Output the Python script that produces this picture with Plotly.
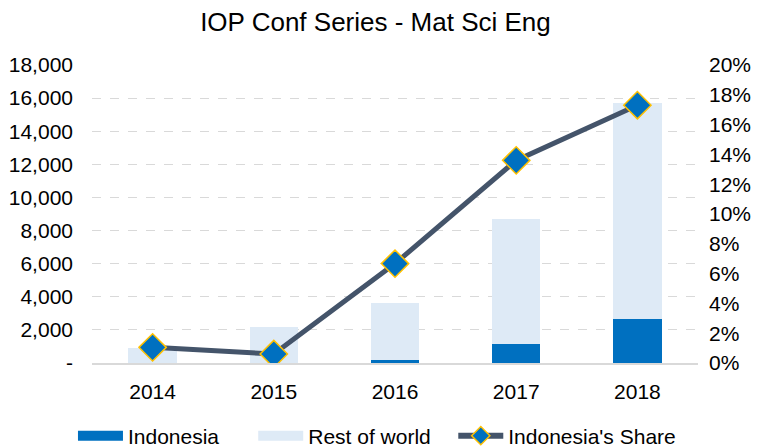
import plotly.graph_objects as go

years = ["2014", "2015", "2016", "2017", "2018"]
indonesia = [0, 0, 200, 1150, 2650]
rest_of_world = [880, 2200, 3400, 7550, 13050]
share = [0.0105, 0.006, 0.0667, 0.136, 0.173]

left_ticks = [0, 2000, 4000, 6000, 8000, 10000, 12000, 14000, 16000, 18000]
left_labels = ["-"] + [f"{v:,}" for v in left_ticks[1:]]
right_ticks = [i / 100 for i in range(0, 21, 2)]
right_labels = [f"{i}%" for i in range(0, 21, 2)]

font = "Liberation Sans, Arial, sans-serif"
c_indo = "#0070C0"
c_rest = "#DEEAF6"
c_line = "#44546A"
NB = "\u00a0"

fig = go.Figure()
fig.add_trace(go.Bar(x=years, y=indonesia, name="Indonesia", legendgroup="indo",
                     showlegend=False, marker=dict(color=c_indo, line=dict(width=0))))
fig.add_trace(go.Bar(x=years, y=rest_of_world, name="Rest of world", legendgroup="rest",
                     showlegend=False, marker=dict(color=c_rest, line=dict(width=0))))
fig.add_trace(go.Scatter(x=years, y=share, name="Indonesia's Share", yaxis="y2",
                         mode="lines+markers", showlegend=False, legendgroup="share",
                         line=dict(color=c_line, width=5),
                         marker=dict(symbol="diamond", size=21, color=c_indo,
                                     line=dict(color="#FFC000", width=1.5))))
# legend entries
fig.add_trace(go.Scatter(x=[None], y=[None], name="Indonesia" + NB * 5, legendgroup="indo",
                         mode="lines", line=dict(color=c_indo, width=12)))
fig.add_trace(go.Scatter(x=[None], y=[None], name="Rest of world" + NB * 3, legendgroup="rest",
                         mode="lines", line=dict(color=c_rest, width=12)))
fig.add_trace(go.Scatter(x=[None], y=[None], name="Indonesia's Share", legendgroup="share",
                         yaxis="y2", mode="lines+markers",
                         line=dict(color=c_line, width=6),
                         marker=dict(symbol="diamond", size=14, color=c_indo,
                                     line=dict(color="#FFC000", width=1.5))))

# the page body adds an 8px offset; figure is sized so it fills the window
fig.update_layout(
    width=753, height=439,
    barmode="stack", bargap=0.6,
    paper_bgcolor="white", plot_bgcolor="white",
    font=dict(family=font, size=21, color="#000000"),
    title=dict(text="IOP Conf Series - Mat Sci Eng", x=0.488, xanchor="center",
               xref="container", y=0.968, yanchor="middle",
               font=dict(size=26, family=font, color="#000")),
    margin=dict(l=84, r=63, t=57, b=84, autoexpand=False),
    xaxis=dict(showline=True, linecolor="#D9D9D9", linewidth=1.5, ticks="",
               tickfont=dict(size=21), showgrid=False, automargin=False,
               ticklabelstandoff=9),
    yaxis=dict(range=[0, 18000], tickvals=left_ticks, ticktext=left_labels,
               showgrid=True, gridcolor="#D9D9D9", griddash="dash", gridwidth=1,
               zeroline=False, ticks="", tickfont=dict(size=21), automargin=False,
               ticklabelstandoff=18),
    yaxis2=dict(range=[0, 0.2], tickvals=right_ticks, ticktext=right_labels,
                overlaying="y", side="right", showgrid=False, zeroline=False,
                ticks="", tickfont=dict(size=21), automargin=False,
                ticklabelstandoff=10),
    legend=dict(orientation="h", x=0.49, xanchor="center", xref="container",
                y=0.025, yanchor="middle", yref="container",
                font=dict(size=21), traceorder="normal", itemwidth=45),
)

fig.write_html("out.html")
